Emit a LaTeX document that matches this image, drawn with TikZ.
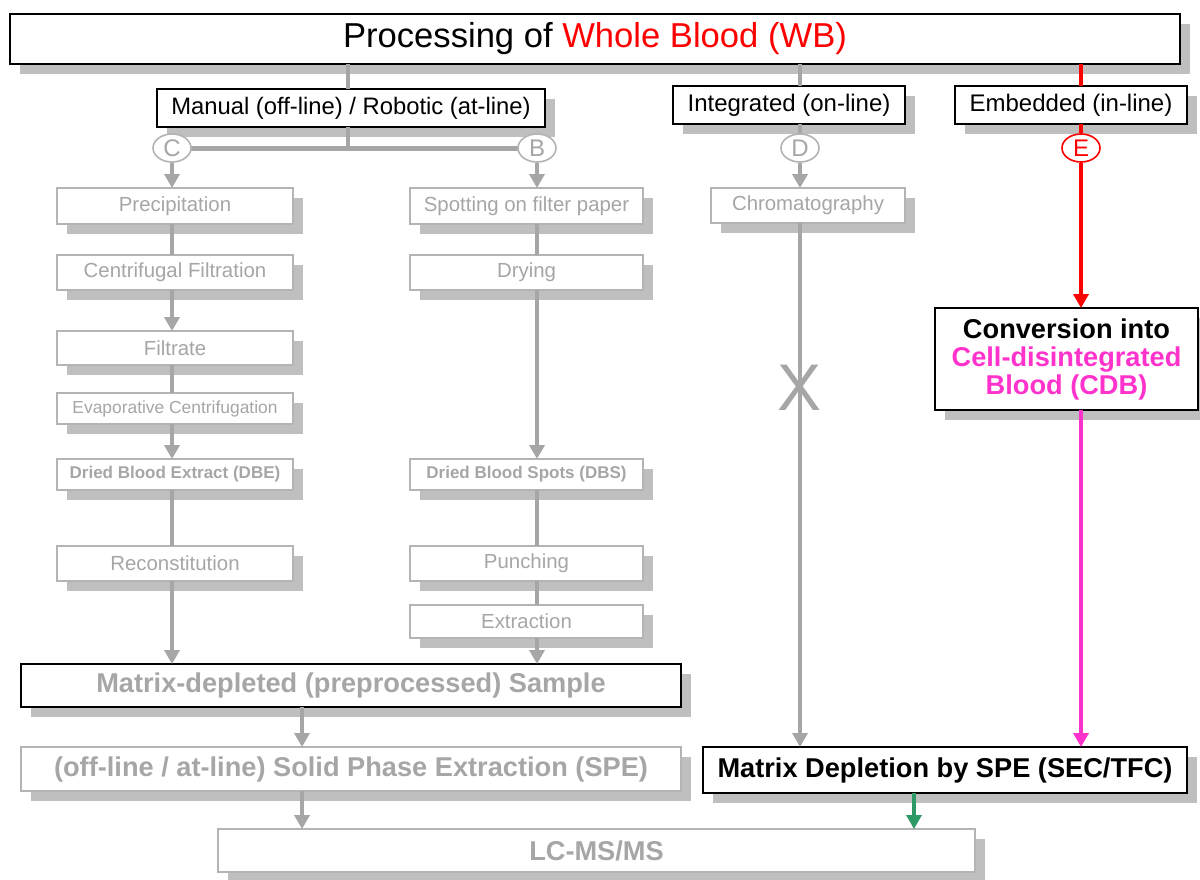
\documentclass[tikz,border=0pt]{standalone}
\usepackage{fontspec}
\setmainfont{Liberation Sans}
\usetikzlibrary{arrows.meta,shapes.geometric,shadows}
\definecolor{txtgray}{HTML}{A6A6A6}
\definecolor{linegray}{HTML}{A6A6A6}
\definecolor{boxgray}{HTML}{B4B4B4}
\definecolor{shgray}{HTML}{BFBFBF}
\definecolor{wbred}{HTML}{FF0000}
\definecolor{cdbpink}{HTML}{FF33CC}
\definecolor{arrgreen}{HTML}{2E9A66}
\newcommand\fs[2]{\fontsize{#1pt}{#2pt}\selectfont}
\newcommand\boxat[7]{\path ({(#2+#4)/2},{(#3+#5)/2}) node[#6, minimum width={(#4-#2)*0.5pt}, minimum height={(#5-#3)*0.5pt}] (#1) {#7};}
\begin{document}
\begin{tikzpicture}[x=0.5pt,y=-0.5pt,
  bx/.style={rectangle, inner sep=0pt, outer sep=0pt, fill=white, line width=1pt,
    drop shadow={shadow xshift=5pt, shadow yshift=-5pt, opacity=1, fill=shgray}},
  blk/.style={bx, draw=black, text=black},
  gry/.style={bx, draw=boxgray, line width=0.9pt, text=txtgray},
  circ/.style={ellipse, draw=boxgray, line width=0.8pt, fill=white, inner sep=0pt,
    minimum width=19pt, minimum height=14pt, text=txtgray, font=\fs{12}{14}},
  conn/.style={draw=linegray, line width=2pt},
  tip/.style={-{Triangle[width=7.5pt,length=7pt]}},
  arr/.style={conn, tip},
  stxt/.style={font=\fs{10.2}{12}},
  btxt/.style={font=\bfseries\fs{13.6}{14}}
]
\useasboundingbox (0,0) rectangle (1200,879);
\fill[white] (0,0) rectangle (1200,879);

% top level
\boxat{title}{10}{14}{1180}{64}{blk}{\fs{17.3}{20}Processing of \textcolor{wbred}{Whole Blood (WB)}}
\boxat{manual}{157}{89}{545}{127}{blk}{\fs{11.9}{14}Manual (off-line) / Robotic (at-line)}
\boxat{integ}{673}{86}{905}{124}{blk}{\fs{12}{14}Integrated (on-line)}
\boxat{embed}{955}{86}{1187}{124}{blk}{\fs{12}{14}Embedded (in-line)}

% left column
\boxat{precip}{57}{188}{293}{224}{gry,stxt}{Precipitation}
\boxat{cfilt}{57}{255}{293}{290}{gry,stxt}{Centrifugal Filtration}
\boxat{filtrate}{57}{331}{293}{365}{gry,stxt}{Filtrate}
\boxat{evap}{57}{393}{293}{424}{gry,font=\fs{8.7}{10}}{Evaporative Centrifugation}
\boxat{dbe}{57}{459}{293}{490}{gry,font=\bfseries\fs{8.5}{10}}{Dried Blood Extract (DBE)}
\boxat{recon}{57}{546}{293}{581}{gry,stxt}{Reconstitution}

% middle column
\boxat{spot}{410}{188}{643}{224}{gry,stxt}{Spotting on filter paper}
\boxat{drying}{410}{255}{643}{290}{gry,stxt}{Drying}
\boxat{dbs}{410}{459}{643}{490}{gry,font=\bfseries\fs{8.5}{10}}{Dried Blood Spots (DBS)}
\boxat{punch}{410}{546}{643}{581}{gry,stxt}{Punching}
\boxat{extr}{410}{605}{643}{638}{gry,stxt}{Extraction}

% right columns
\boxat{chrom}{711}{188}{905}{223}{gry,stxt}{Chromatography}
\boxat{conv}{935}{308}{1198}{410}{blk,align=center,btxt}{Conversion into\\\textcolor{cdbpink}{Cell-disintegrated}\\\textcolor{cdbpink}{Blood (CDB)}}

% bottom
\boxat{mds}{21}{664}{681}{707}{blk,text=txtgray,btxt}{Matrix-depleted (preprocessed) Sample}
\boxat{spe}{21}{747}{681}{791}{gry,btxt}{(off-line / at-line) Solid Phase Extraction (SPE)}
\boxat{mdep}{703}{747}{1187}{793}{blk,btxt}{Matrix Depletion by SPE (SEC/TFC)}
\boxat{lcms}{218}{829}{975}{872}{gry,btxt}{LC-MS/MS}

\coordinate (ax) at (302,0);
\coordinate (gx) at (914,0);
\coordinate (jx) at (348,0);

% connectors (top)
\draw[conn] (title.south -| jx) -- (manual.north -| jx);
\draw[conn] (manual.south -| jx) -- (jx |- 0,148);
\draw[conn, line width=2.5pt] (172,148) coordinate (hl) -- (537,148) coordinate (hr);

% circles
\node[circ] (C) at (172,148) {C};
\node[circ] (B) at (537,148) {B};
\node[circ] (D) at (800,148) {D};
\node[circ, draw=wbred, text=wbred] (E) at (1081,148) {E};

\draw[conn] (title.south -| D) -- (integ.north -| D);
\draw[conn] (integ.south -| D) -- (D.north);
\draw[conn, draw=wbred] (title.south -| E) -- (embed.north -| E);
\draw[conn, draw=wbred] (embed.south -| E) -- (E.north);

% left column connectors
\draw[arr] (C.south) -- (C.south |- precip.north);
\draw[conn] (precip.south -| C) -- (cfilt.north -| C);
\draw[arr] (cfilt.south -| C) -- (filtrate.north -| C);
\draw[conn] (filtrate.south -| C) -- (evap.north -| C);
\draw[arr] (evap.south -| C) -- (dbe.north -| C);
\draw[conn] (dbe.south -| C) -- (recon.north -| C);
\draw[arr] (recon.south -| C) -- (mds.north -| C);

% middle column connectors
\draw[arr] (B.south) -- (B.south |- spot.north);
\draw[conn] (spot.south -| B) -- (drying.north -| B);
\draw[arr] (drying.south -| B) -- (dbs.north -| B);
\draw[conn] (dbs.south -| B) -- (punch.north -| B);
\draw[conn] (punch.south -| B) -- (extr.north -| B);
\draw[arr] (extr.south -| B) -- (mds.north -| B);

% D column
\draw[arr] (D.south) -- (D.south |- chrom.north);
\draw[arr] (chrom.south -| D) -- (mdep.north -| D);
\node[text=txtgray, font=\fs{33}{36}, inner sep=0pt] (xmark) at (800,388) {X};

% E column
\draw[conn, draw=wbred, tip] (E.south) -- (E.south |- conv.north);
\draw[conn, draw=cdbpink, tip] (conv.south -| E) -- (mdep.north -| E);

% bottom connectors
\draw[arr] (mds.south -| ax) -- (spe.north -| ax);
\draw[arr] (spe.south -| ax) -- (lcms.north -| ax);
\draw[draw=arrgreen, line width=1.6pt, tip] (mdep.south -| gx) -- (lcms.north -| gx);
\end{tikzpicture}
\end{document}
